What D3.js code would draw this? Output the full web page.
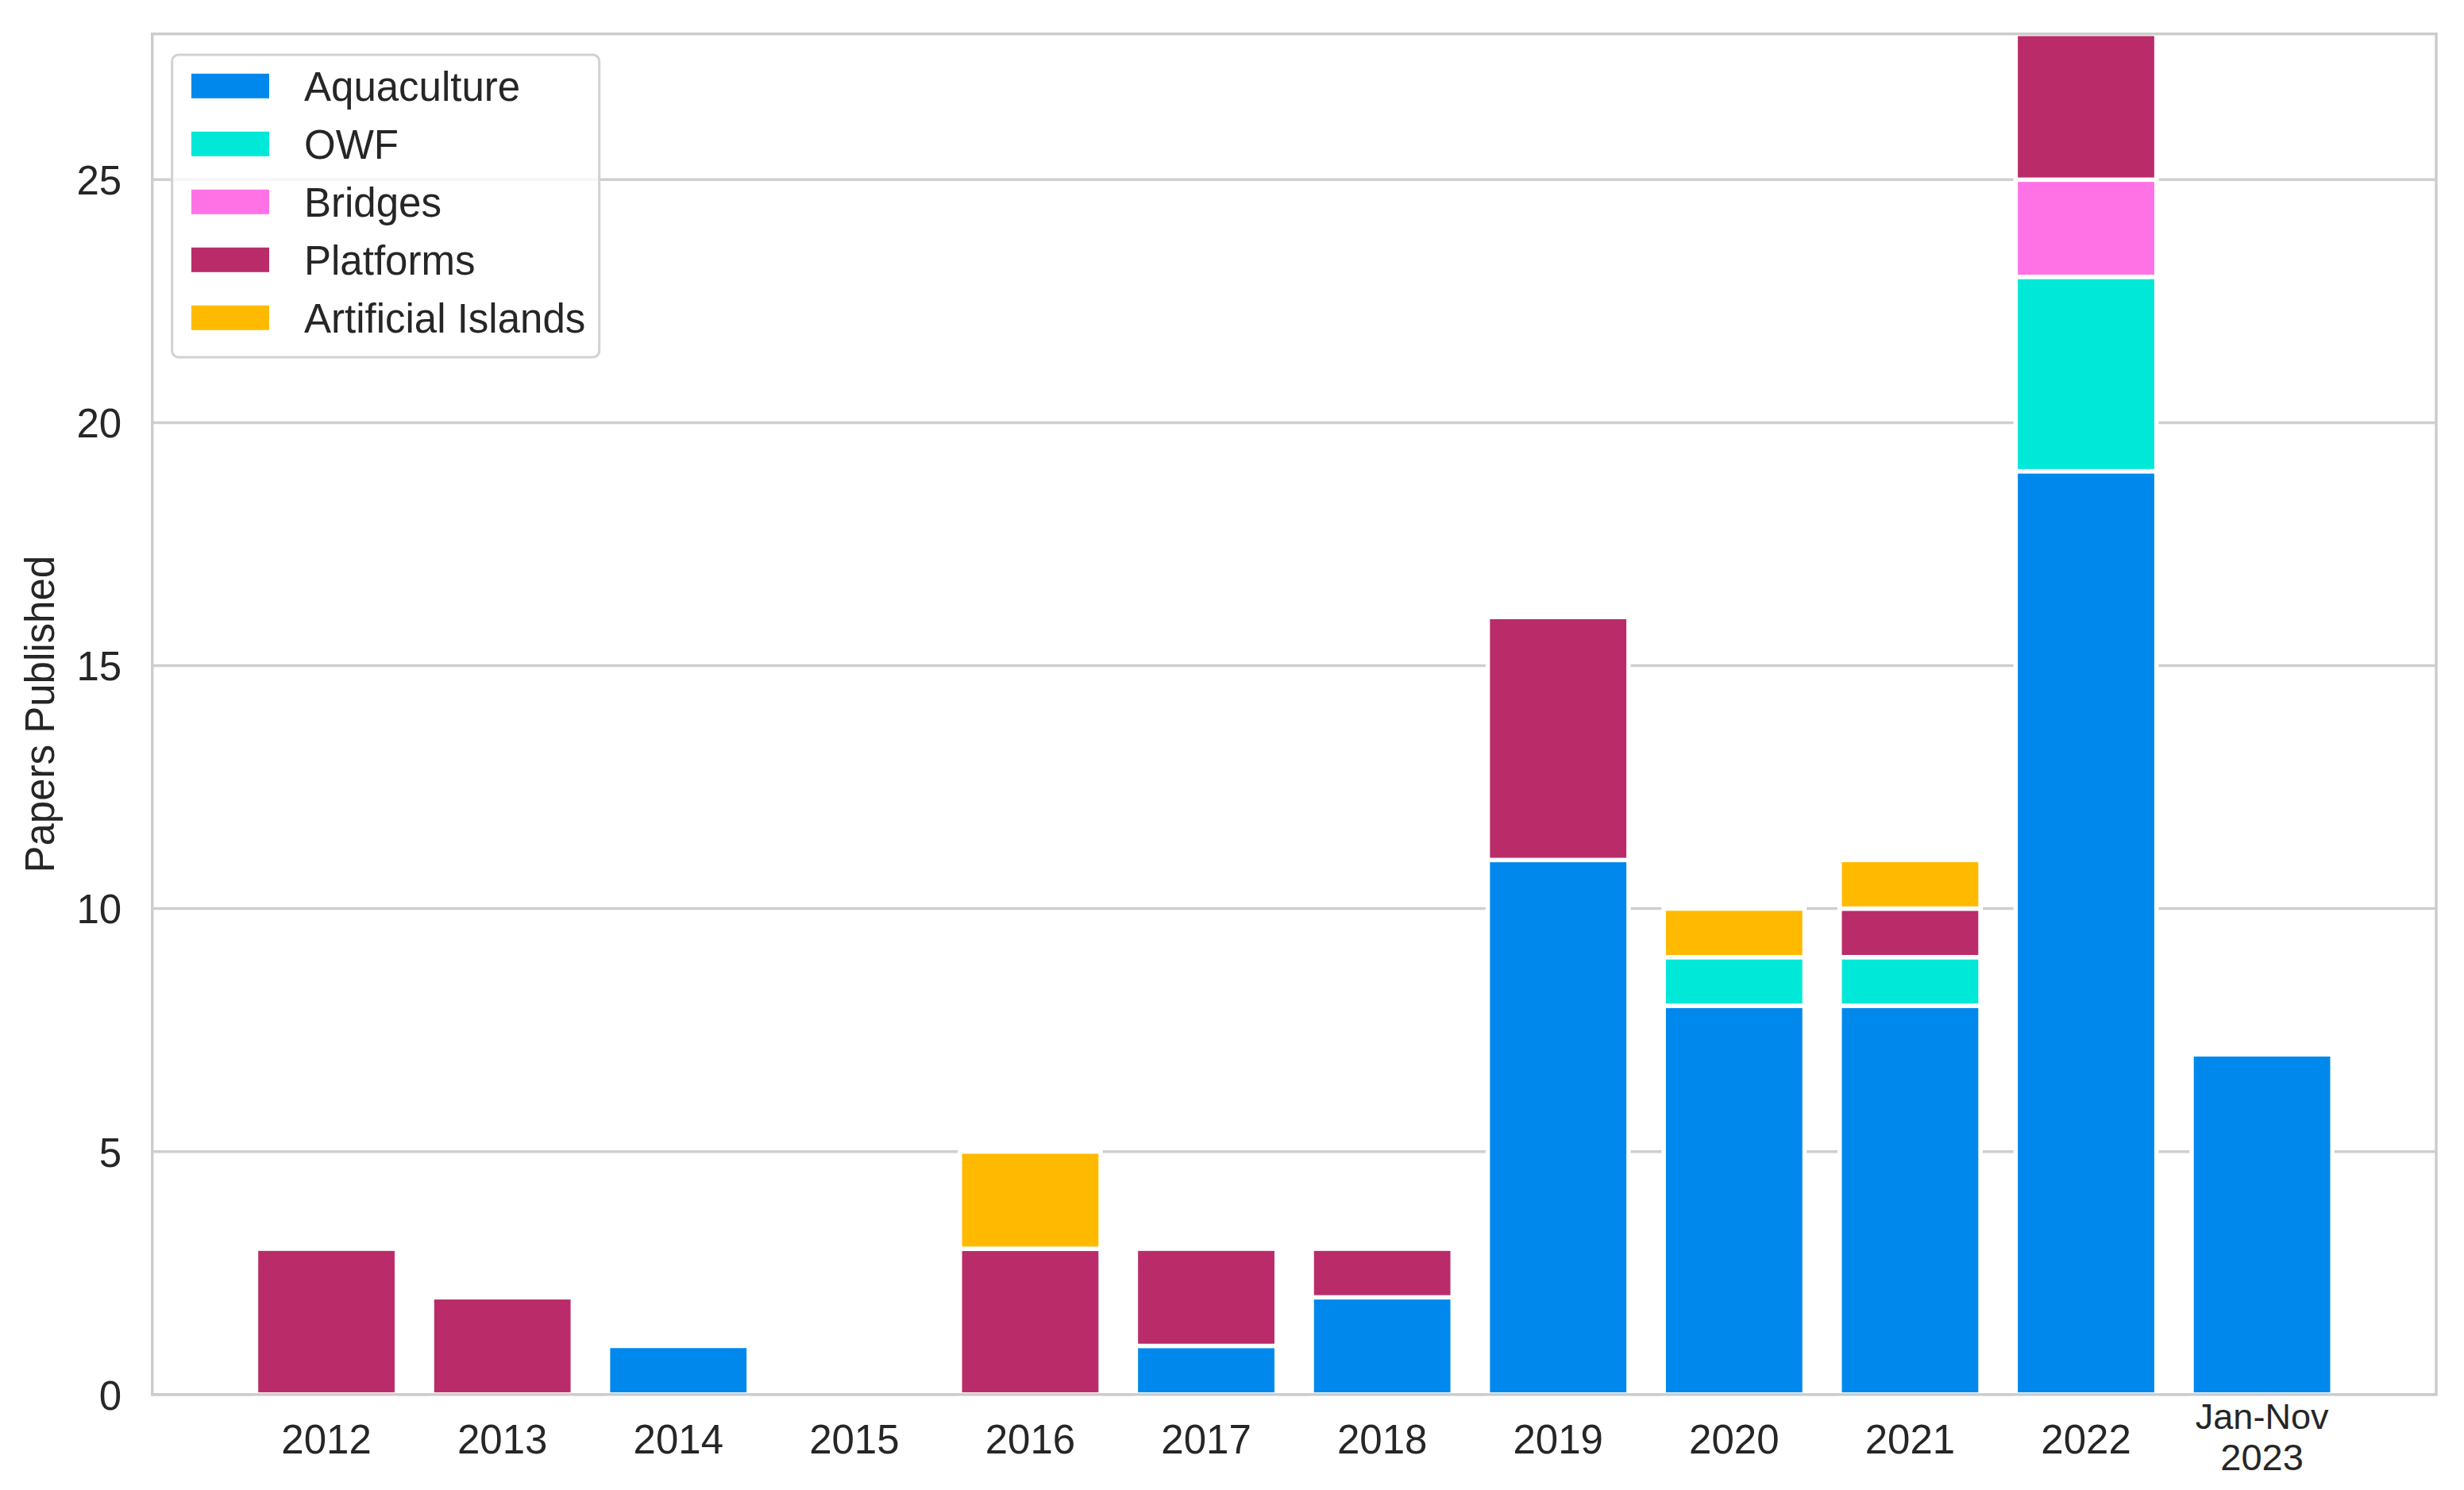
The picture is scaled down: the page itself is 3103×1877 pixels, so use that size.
<!DOCTYPE html>
<html>
<head>
<meta charset="utf-8">
<script src="https://cdn.jsdelivr.net/npm/d3@7"></script>
<style>
  body { margin: 0; background: #fff; }
  text { font-family: "Liberation Sans", Arial, sans-serif; fill: #262626; }
</style>
</head>
<body>
<div id="graph1"></div>
<script>
var years = ["2012","2013","2014","2015","2016","2017","2018","2019","2020","2021","2022","Jan-Nov 2023"]
var series = ["Aquaculture","OWF","Bridges","Platforms","Artificial Islands"]
var colors = ["#0088ec","#00e8d8","#ff72e6","#ba2c69","#ffba00"]

var aquaculture = [0,0,1,0,0,1,2,11,8,8,19,7]
var owf         = [0,0,0,0,0,0,0,0,1,1,4,0]
var bridges     = [0,0,0,0,0,0,0,0,0,0,2,0]
var platforms   = [3,2,0,0,3,2,1,5,0,1,3,0]
var islands     = [0,0,0,0,2,0,0,0,1,1,0,0]

var yticks = [0,5,10,15,20,25]

function draw_chart(){
    var width = 3103
    var height = 1877
    var left = 191.7, top = 42.7, right = 3068, bottom = 1756.7

    var rows = years.map(function(y, i){
        return {year: y, "Aquaculture": aquaculture[i], "OWF": owf[i], "Bridges": bridges[i],
                "Platforms": platforms[i], "Artificial Islands": islands[i]}
    })

    var xscale = d3.scaleBand()
      .domain(years)
      .range([left, right])
      .paddingInner(0.2)
      .paddingOuter(0.59)

    var yscale = d3.scaleLinear()
      .domain([0, 28])
      .range([bottom, top])

    var color = d3.scaleOrdinal().domain(series).range(colors)

    var svg = d3.select("#graph1").append("svg")
      .attr("width", width)
      .attr("height", height)

    // grid lines below the bars
    svg.append("g")
      .selectAll("line")
      .data(yticks)
      .enter().append("line")
      .attr("x1", left).attr("x2", right)
      .attr("y1", function(d){ return yscale(d) })
      .attr("y2", function(d){ return yscale(d) })
      .attr("stroke", "#cfcfcf")
      .attr("stroke-width", 3.5)

    var stacked = d3.stack().keys(series)(rows)

    svg.append("g")
      .selectAll("g")
      .data(stacked)
      .enter().append("g")
      .attr("fill", function(d){ return color(d.key) })
      .selectAll("rect")
      .data(function(d){ return d.filter(function(s){ return s[1] > s[0] }) })
      .enter().append("rect")
      .attr("x", function(d){ return xscale(d.data.year) })
      .attr("width", xscale.bandwidth())
      .attr("y", function(d){ return yscale(d[1]) })
      .attr("height", function(d){ return yscale(d[0]) - yscale(d[1]) })
      .attr("stroke", "#fff")
      .attr("stroke-width", 5.5)

    // frame
    svg.append("rect")
      .attr("x", left).attr("y", top)
      .attr("width", right - left).attr("height", bottom - top)
      .attr("fill", "none")
      .attr("stroke", "#cccccc")
      .attr("stroke-width", 3.5)

    var yaxis = svg.append("g")
      .attr("transform", "translate(" + left + ",0)")
      .call(d3.axisLeft(yscale).tickValues(yticks).tickSize(0).tickPadding(38.5))
    yaxis.select(".domain").remove()
    yaxis.selectAll("text")
      .attr("dy", "0.36em")
      .style("font-size", "51px")
      .style("font-family", "'Liberation Sans', Arial, sans-serif")
      .attr("fill", "#262626")

    var xaxis = svg.append("g")
      .attr("transform", "translate(0," + bottom + ")")
      .call(d3.axisBottom(xscale).tickSize(0).tickPadding(38.6))
    xaxis.select(".domain").remove()
    xaxis.selectAll("text")
      .style("font-size", "51px")
      .style("font-family", "'Liberation Sans', Arial, sans-serif")
      .attr("fill", "#262626")
      .each(function(d){
        var parts = d.split(" ")
        if (parts.length > 1) {
            // two-line label, set tight like the original
            var t = d3.select(this).text(null).attr("y", 0).attr("dy", null)
            t.append("tspan").attr("x", 0).attr("y", 43).style("font-size", "45px").text(parts[0])
            t.append("tspan").attr("x", 0).attr("y", 95).style("font-size", "47px").text(parts[1])
        }
      })

    svg.append("text")
      .attr("transform", "translate(68," + ((top + bottom) / 2) + ") rotate(-90)")
      .attr("text-anchor", "middle")
      .style("font-size", "51px")
      .text("Papers Published")

    // legend
    var leg = svg.append("g")
    leg.append("rect")
      .attr("x", 216.7).attr("y", 69)
      .attr("width", 538).attr("height", 381)
      .attr("rx", 8).attr("ry", 8)
      .attr("fill", "#fff").attr("fill-opacity", 0.8)
      .attr("stroke", "#d2d2d2")
      .attr("stroke-width", 3)

    var items = leg.selectAll(".item")
      .data(series)
      .enter().append("g")
      .attr("class", "item")
      .attr("transform", function(d, i){ return "translate(0," + (108.3 + i * 73) + ")" })
    items.append("rect")
      .attr("x", 241).attr("y", -15.5)
      .attr("width", 98).attr("height", 31)
      .attr("fill", function(d){ return color(d) })
    items.append("text")
      .attr("x", 383).attr("y", 18.4)
      .style("font-size", "51px")
      .text(function(d){ return d })
}

draw_chart()
</script>
</body>
</html>
